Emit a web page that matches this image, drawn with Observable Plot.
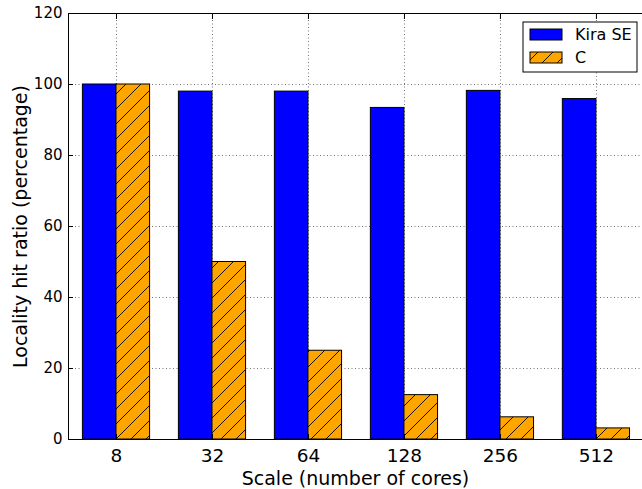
<!DOCTYPE html>
<html>
<head>
<meta charset="utf-8">
<script src="https://cdn.jsdelivr.net/npm/d3@7"></script>
<script src="https://cdn.jsdelivr.net/npm/@observablehq/plot@0.6"></script>
<style>
  body { margin: 0; background: #fff; }
  svg { font-family: "DejaVu Sans", sans-serif; }
</style>
</head>
<body>
<div id="chart"></div>
<script>
// Scales (number of cores) and locality hit ratio per system, in percent
const cores = ["8", "32", "64", "128", "256", "512"];
const kiraSE = [100, 98, 98, 93.4, 98.2, 95.9];
const cBaseline = [100, 50, 25, 12.5, 6.25, 3.125];
const seriesNames = ["Kira SE", "C"];
const yTicks = [0, 20, 40, 60, 80, 100, 120];

const barWidth = 0.35;

// One row per bar: index-based positions with grouped offsets
const rows = cores.flatMap((c, i) => [
  { series: seriesNames[0], x1: i, x2: i + barWidth, value: kiraSE[i] },
  { series: seriesNames[1], x1: i + barWidth, x2: i + 2 * barWidth, value: cBaseline[i] }
]);
const xTicks = cores.map((c, i) => i + barWidth);
const coreLabel = d => cores[Math.round(d - barWidth)];

const gridStyle = { stroke: "#000", strokeOpacity: 0.7, strokeWidth: 0.8, strokeDasharray: "1,2.5" };

const chart = Plot.plot({
  width: 642,
  height: 489,
  marginLeft: 68,
  marginRight: 0,
  marginTop: 13,
  marginBottom: 50,
  style: { fontFamily: "DejaVu Sans, sans-serif", fontSize: "16px", background: "white", color: "black" },
  x: { type: "linear", domain: [-0.15, 5.83] },
  y: { domain: [0, 120] },
  marks: [
    Plot.gridY(yTicks, gridStyle),
    Plot.gridX(xTicks, gridStyle),
    Plot.rectY(rows.filter(d => d.series === seriesNames[0]), {
      x1: "x1", x2: "x2", y1: 0, y2: "value",
      fill: "#0000ff", stroke: "#000", strokeWidth: 1
    }),
    Plot.rectY(rows.filter(d => d.series === seriesNames[1]), {
      x1: "x1", x2: "x2", y1: 0, y2: "value",
      fill: "url(#hatch-c)", stroke: "#000", strokeWidth: 1
    }),
    // spines (left, bottom, top)
    Plot.ruleX([-0.15], { stroke: "#000", strokeWidth: 1 }),
    Plot.ruleY([0, 120], { stroke: "#000", strokeWidth: 1 }),
    // tick labels
    Plot.axisY(yTicks, { tickSize: 0, tickPadding: 6, fontSize: 15, label: null }),
    Plot.axisX(xTicks, { tickSize: 0, tickPadding: 9, fontSize: 18.5, tickFormat: coreLabel, label: null }),
    // axis titles
    Plot.axisY(yTicks, {
      tickSize: 0, tickFormat: () => "", fontSize: 19,
      label: "Locality hit ratio (percentage)", labelAnchor: "center", labelArrow: "none", labelOffset: 55
    }),
    Plot.axisX(xTicks, {
      tickSize: 0, tickFormat: () => "", fontSize: 19,
      label: "Scale (number of cores)", labelAnchor: "center", labelArrow: "none", labelOffset: 45
    }),
    // inward tick marks
    Plot.axisY(yTicks, { tickSize: 5, dx: 5, tickFormat: () => "", label: null, stroke: "#000" }),
    Plot.axisX(xTicks, { anchor: "bottom", tickSize: 5, dy: -5, tickFormat: () => "", label: null, stroke: "#000" }),
    Plot.axisX(xTicks, { anchor: "top", tickSize: 5, dy: 5, tickFormat: () => "", label: null, stroke: "#000" })
  ]
});

// Hatch pattern for the C bars: orange with "/" lines
const svg = d3.select(chart);
const defs = svg.insert("defs", ":first-child");
const pat = defs.append("pattern")
  .attr("id", "hatch-c")
  .attr("patternUnits", "userSpaceOnUse")
  .attr("width", 15).attr("height", 15);
pat.append("rect").attr("width", 15).attr("height", 15).attr("fill", "#ffa500");
pat.append("path")
  .attr("d", "M-1,16 L16,-1 M-4,4 L4,-4 M11,19 L19,11")
  .attr("stroke", "#000").attr("stroke-width", 0.9).attr("fill", "none");

// Legend box in the upper right
const legend = svg.append("g").attr("transform", "translate(523,22)");
legend.append("rect")
  .attr("width", 114).attr("height", 50)
  .attr("fill", "white").attr("stroke", "#000").attr("stroke-width", 1);
const swatchFills = ["#0000ff", "url(#hatch-c)"];
seriesNames.forEach((name, k) => {
  const y = 7 + k * 23;
  legend.append("rect")
    .attr("x", 7).attr("y", y).attr("width", 32).attr("height", 11)
    .attr("fill", swatchFills[k]).attr("stroke", "#000").attr("stroke-width", 1);
  legend.append("text")
    .attr("x", 52).attr("y", y + 11)
    .attr("text-anchor", "start")
    .attr("font-size", 16).attr("fill", "#000")
    .text(name);
});

document.getElementById("chart").appendChild(chart);
</script>
</body>
</html>
